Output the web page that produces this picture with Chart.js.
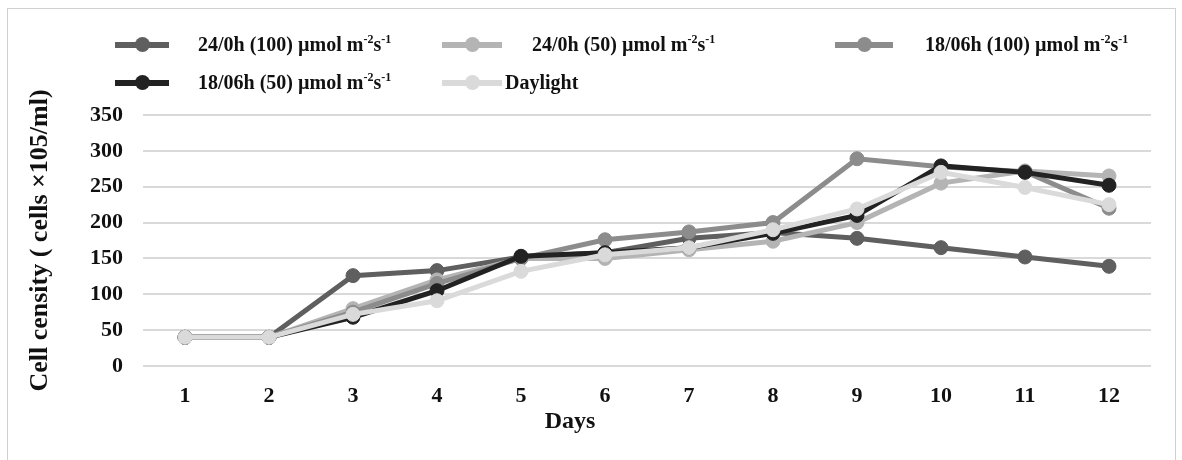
<!DOCTYPE html>
<html>
<head>
<meta charset="utf-8">
<script src="https://cdn.jsdelivr.net/npm/chart.js@4"></script>
<style>
  body { margin: 0; background: #fff; font-family: "Liberation Serif", "Times New Roman", serif; }
  #wrap { position: relative; width: 1182px; height: 460px; overflow: hidden; }
  #frame { position: absolute; left: 7px; top: 8px; width: 1169px; height: 470px; border: 1px solid #d0d0d0; box-sizing: border-box; }
  canvas { position: absolute; left: 0; top: 0; }
  .leg { position: absolute; font-weight: bold; font-size: 20px; color: #111; white-space: nowrap; line-height: 22px; }
  .mk { position: absolute; height: 6px; }
  .mk i { position: absolute; width: 15px; height: 15px; border-radius: 50%; top: -5px; }
  sup { font-size: 12px; line-height: 0; }
  #xtitle { position: absolute; left: 470px; width: 200px; top: 406px; text-align: center; font-weight: bold; font-size: 24px; line-height: 28px; color: #111; }
</style>
</head>
<body>
<div id="wrap">
  <div id="frame"></div>
  <canvas id="chart" width="1182" height="460"></canvas>
  <div id="legend"></div>
  <div id="xtitle">Days</div>
</div>
<script>
const days = ['1', '2', '3', '4', '5', '6', '7', '8', '9', '10', '11', '12'];
const yTicks = [0, 50, 100, 150, 200, 250, 300, 350];

const s24h100 = [40, 40, 126, 133, 152, 158, 178, 186, 178, 165, 152, 139];
const s24h50 = [40, 40, 80, 120, 150, 150, 162, 174, 200, 255, 272, 265];
const s18h100 = [40, 40, 75, 115, 150, 176, 187, 200, 289, 278, 271, 220];
const s18h50 = [40, 40, 68, 105, 153, 158, 165, 185, 210, 279, 270, 252];
const daylight = [40, 40, 72, 91, 132, 155, 165, 190, 219, 270, 249, 225];

const seriesNames = ['24/0h (100) µmol m<sup>-2</sup>s<sup>-1</sup>', '24/0h (50) µmol m<sup>-2</sup>s<sup>-1</sup>',
  '18/06h (100) µmol m<sup>-2</sup>s<sup>-1</sup>', '18/06h (50) µmol m<sup>-2</sup>s<sup>-1</sup>', 'Daylight'];
const seriesData = [s24h100, s24h50, s18h100, s18h50, daylight];
const colors = ['#5f5f5f', '#b4b4b4', '#8c8c8c', '#222222', '#dadada'];

// legend slots: [marker left, marker width, text left, center y]
const legendPos = [[115, 54, 198, 45], [442, 60, 532, 45], [835, 58, 925, 45], [115, 54, 198, 83], [442, 60, 505, 83]];

const legend = document.getElementById('legend');
seriesNames.forEach((name, i) => {
  const p = legendPos[i];
  const mk = document.createElement('div');
  mk.className = 'mk';
  mk.style.cssText = `left:${p[0]}px;top:${p[3] - 3}px;width:${p[1]}px;background:${colors[i]}`;
  mk.innerHTML = `<i style="left:${p[1] / 2 - 7}px;background:${colors[i]}"></i>`;
  legend.appendChild(mk);
  const t = document.createElement('div');
  t.className = 'leg';
  t.style.cssText = `left:${p[2]}px;top:${p[3] - 12}px`;
  t.innerHTML = name;
  legend.appendChild(t);
});

const font = { family: '"Liberation Serif", "Times New Roman", serif', weight: 'bold' };

new Chart(document.getElementById('chart'), {
  type: 'line',
  data: {
    labels: days,
    datasets: seriesData.map((d, i) => ({
      label: seriesNames[i].replace(/<[^>]+>/g, ''),
      data: d,
      borderColor: colors[i],
      backgroundColor: colors[i],
      borderWidth: 5,
      pointRadius: 7,
      pointBorderWidth: 1,
      pointBorderColor: colors[i],
      order: 4 - i,
      fill: false
    }))
  },
  options: {
    responsive: false,
    animation: false,
    layout: { padding: { top: 115, right: 31, bottom: 0, left: 0 } },
    plugins: { legend: { display: false }, tooltip: { enabled: false } },
    scales: {
      x: {
        offset: true,
        afterFit: s => { s.height = 94; },
        grid: { display: false, offset: true },
        border: { display: false },
        ticks: { color: '#111', padding: 9, font: { ...font, size: 22 } }
      },
      y: {
        min: 0,
        max: 350,
        afterFit: s => { s.width = 143; },
        afterBuildTicks: s => { s.ticks = yTicks.map(v => ({ value: v })); },
        grid: { color: '#d9d9d9', lineWidth: 2, drawTicks: false },
        border: { display: false },
        ticks: { color: '#111', padding: 20, font: { ...font, size: 22 } },
        title: { display: true, text: 'Cell censity ( cells ×105/ml)', color: '#111', padding: { top: 25, bottom: 0 }, font: { ...font, size: 26 } }
      }
    }
  }
});
</script>
</body>
</html>
